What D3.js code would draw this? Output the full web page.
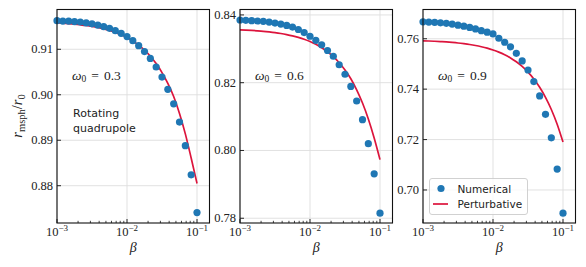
<!DOCTYPE html>
<html>
<head>
<meta charset="utf-8">
<script src="https://cdn.jsdelivr.net/npm/d3@7/dist/d3.min.js"></script>
<style>
    body { margin: 0; background: #fff; }
    svg { display: block; }
    .tick-label { font-family: "Liberation Serif", "Times New Roman", serif; font-size: 12.5px; fill: #222; }
    .sans { font-family: "DejaVu Sans", sans-serif; fill: #222; }
</style>
</head>
<body>
<svg width="586" height="267"></svg>
<script>

// coupling values (log spaced)
var beta = [0.001, 0.0012115, 0.0014678, 0.0017783, 0.0021544, 0.0026102, 0.0031623,
    0.0038312, 0.0046416, 0.0056234, 0.0068129, 0.008254, 0.01, 0.012115, 0.014678,
    0.017783, 0.021544, 0.026102, 0.031623, 0.038312, 0.046416, 0.056234, 0.068129,
    0.08254, 0.1];

var omegas = ['0.3', '0.6', '0.9'];

var numerical03 = [0.9163, 0.9162, 0.9162, 0.9161, 0.9160, 0.9158, 0.9156, 0.9153, 0.9150,
    0.9146, 0.9141, 0.9135, 0.9128, 0.9119, 0.9108, 0.9095, 0.9080, 0.9061, 0.9039,
    0.9012, 0.8980, 0.8940, 0.8888, 0.8824, 0.8741];
var perturb03 = [0.91580, 0.91573, 0.91564, 0.91553, 0.91539, 0.91523, 0.91503, 0.91479,
    0.91450, 0.91415, 0.91373, 0.91322, 0.91259, 0.91184, 0.91093, 0.90982, 0.90848,
    0.90685, 0.90488, 0.90250, 0.89961, 0.89590, 0.89140, 0.88610, 0.88050];

var numerical06 = [0.8385, 0.8384, 0.8383, 0.8382, 0.8381, 0.8379, 0.8376, 0.8373, 0.8369,
    0.8364, 0.8357, 0.8348, 0.8337, 0.8325, 0.8312, 0.8295, 0.8278, 0.8253, 0.8225,
    0.8189, 0.8146, 0.8091, 0.8020, 0.7931, 0.7815];
var perturb06 = [0.83561, 0.83553, 0.83543, 0.83531, 0.83517, 0.83499, 0.83478, 0.83452,
    0.83420, 0.83382, 0.83336, 0.83281, 0.83213, 0.83131, 0.83032, 0.82912, 0.82766,
    0.82590, 0.82377, 0.82118, 0.81790, 0.81400, 0.80930, 0.80370, 0.79731];

var numerical09 = [0.7667, 0.7666, 0.7665, 0.7663, 0.7661, 0.7658, 0.7654, 0.7650, 0.7645,
    0.7639, 0.7632, 0.7626, 0.7619, 0.7602, 0.7586, 0.7568, 0.7542, 0.7512, 0.7476,
    0.7430, 0.7373, 0.7300, 0.7207, 0.7083, 0.6908];
var perturb09 = [0.75919, 0.75911, 0.75900, 0.75888, 0.75873, 0.75854, 0.75832, 0.75804,
    0.75772, 0.75732, 0.75683, 0.75625, 0.75554, 0.75468, 0.75364, 0.75238, 0.75085,
    0.74900, 0.74676, 0.74405, 0.74075, 0.73677, 0.73194, 0.72609, 0.71900];

var yTicks03 = [0.88, 0.89, 0.90, 0.91],
    yTicks06 = [0.78, 0.80, 0.82, 0.84],
    yTicks09 = [0.70, 0.72, 0.74, 0.76];
var yRange03 = [0.8718, 0.91875],
    yRange06 = [0.7786, 0.8416],
    yRange09 = [0.6869, 0.7716];
var xMajor = [0.001, 0.01, 0.1],
    xMajorExp = ['−3', '−2', '−1'];

var blue = '#1f77b4',
    red = '#dc143c',
    plotTop = 9.5,
    plotBottom = 223,
    panelW = 152.5,
    svg = d3.select('svg');

var panels = [
    {left: 57, num: numerical03, pert: perturb03, ticks: yTicks03, yr: yRange03, omega: omegas[0]},
    {left: 240, num: numerical06, pert: perturb06, ticks: yTicks06, yr: yRange06, omega: omegas[1]},
    {left: 423, num: numerical09, pert: perturb09, ticks: yTicks09, yr: yRange09, omega: omegas[2]}
];

function minorTicks() {
    var out = [];
    [0.001, 0.01].forEach(function (d) {
        for (var k = 2; k <= 9; k++) out.push(d * k);
    });
    return out;
}

panels.forEach(function (p) {
    var x = d3.scaleLog()
            .domain([0.001, Math.pow(10, -3 + panelW / 70)])
            .range([p.left, p.left + panelW]),
        y = d3.scaleLinear().domain(p.yr).range([plotBottom, plotTop]),
        g = svg.append('g');

    // grid
    g.selectAll('.gx').data(xMajor).enter().append('line')
        .attr('x1', x).attr('x2', x).attr('y1', plotTop).attr('y2', plotBottom)
        .attr('stroke', '#dedede').attr('stroke-width', 0.9);
    g.selectAll('.gy').data(p.ticks).enter().append('line')
        .attr('x1', p.left).attr('x2', p.left + panelW)
        .attr('y1', y).attr('y2', y)
        .attr('stroke', '#dedede').attr('stroke-width', 0.9);

    // perturbative curve
    var line = d3.line()
        .x(function (d, i) { return x(beta[i]); })
        .y(function (d) { return y(d); })
        .curve(d3.curveMonotoneX);
    g.append('path').datum(p.pert)
        .attr('d', line)
        .attr('fill', 'none')
        .attr('stroke', red)
        .attr('stroke-width', 1.7);

    // numerical points
    g.selectAll('circle').data(p.num).enter().append('circle')
        .attr('cx', function (d, i) { return x(beta[i]); })
        .attr('cy', function (d) { return y(d); })
        .attr('r', 3.6)
        .attr('fill', blue);

    // frame
    g.append('rect')
        .attr('x', p.left).attr('y', plotTop)
        .attr('width', panelW).attr('height', plotBottom - plotTop)
        .attr('fill', 'none').attr('stroke', '#111').attr('stroke-width', 1.1);

    // x ticks (inward)
    g.selectAll('.mt').data(minorTicks()).enter().append('line')
        .attr('x1', x).attr('x2', x).attr('y1', plotBottom).attr('y2', plotBottom - 2.2)
        .attr('stroke', '#111').attr('stroke-width', 0.8);
    g.selectAll('.Mt').data(xMajor).enter().append('line')
        .attr('x1', x).attr('x2', x).attr('y1', plotBottom).attr('y2', plotBottom - 4)
        .attr('stroke', '#111').attr('stroke-width', 0.9);
    g.selectAll('.yt').data(p.ticks).enter().append('line')
        .attr('x1', p.left).attr('x2', p.left + 4).attr('y1', y).attr('y2', y)
        .attr('stroke', '#111').attr('stroke-width', 0.9);

    // tick labels
    var xl = g.selectAll('.xl').data(xMajor).enter().append('text')
        .attr('class', 'tick-label')
        .attr('x', x).attr('y', 236)
        .attr('text-anchor', 'middle');
    xl.append('tspan').text('10');
    xl.append('tspan').attr('dy', -5.5).style('font-size', '9px')
        .text(function (d, i) { return xMajorExp[i]; });

    g.selectAll('.yl').data(p.ticks).enter().append('text')
        .attr('class', 'tick-label')
        .attr('x', p.left - 4).attr('y', function (d) { return y(d) + 4; })
        .attr('text-anchor', 'end')
        .text(function (d) { return d.toFixed(2); });

    // x label
    g.append('text').attr('class', 'tick-label')
        .attr('x', p.left + panelW / 2).attr('y', 252)
        .attr('text-anchor', 'middle')
        .style('font-style', 'italic').style('font-size', '14px')
        .text('β');

    // omega label
    var om = g.append('text').attr('class', 'tick-label')
        .attr('x', p.left + 15).attr('y', 79.5).style('font-size', '13.5px');
    om.append('tspan').style('font-style', 'italic').text('ω');
    om.append('tspan').attr('dy', 2.5).style('font-size', '9.5px').text('0');
    om.append('tspan').attr('dy', -2.5).attr('dx', 5).text('=');
    om.append('tspan').attr('dx', 5).text(p.omega);
});

// annotation in first panel
svg.append('text').attr('class', 'sans')
    .attr('x', 73).attr('y', 117).style('font-size', '11px').text('Rotating');
svg.append('text').attr('class', 'sans')
    .attr('x', 73).attr('y', 132).style('font-size', '11px').text('quadrupole');

// y label
var yl = svg.append('text').attr('class', 'tick-label')
    .attr('transform', 'translate(22,116) rotate(-90)')
    .attr('text-anchor', 'middle').style('font-size', '14.5px');
yl.append('tspan').style('font-style', 'italic').text('r');
yl.append('tspan').attr('dy', 3).style('font-size', '10.5px').text('msph');
yl.append('tspan').attr('dy', -3).text('/');
yl.append('tspan').style('font-style', 'italic').text('r');
yl.append('tspan').attr('dy', 3).style('font-size', '10.5px').text('0');

// legend
var lg = svg.append('g').attr('transform', 'translate(429.5,178.5)');
lg.append('rect').attr('width', 98).attr('height', 36).attr('rx', 2.5)
    .attr('fill', 'rgba(255,255,255,0.8)').attr('stroke', '#cccccc').attr('stroke-width', 0.9);
lg.append('circle').attr('cx', 11.5).attr('cy', 10).attr('r', 3.6).attr('fill', blue);
lg.append('line').attr('x1', 3.5).attr('x2', 18.5).attr('y1', 25.5).attr('y2', 25.5)
    .attr('stroke', red).attr('stroke-width', 1.7);
lg.append('text').attr('class', 'sans').attr('x', 28).attr('y', 14)
    .style('font-size', '10.5px').text('Numerical');
lg.append('text').attr('class', 'sans').attr('x', 28).attr('y', 29.5)
    .style('font-size', '10.5px').text('Perturbative');

</script>
</body>
</html>
